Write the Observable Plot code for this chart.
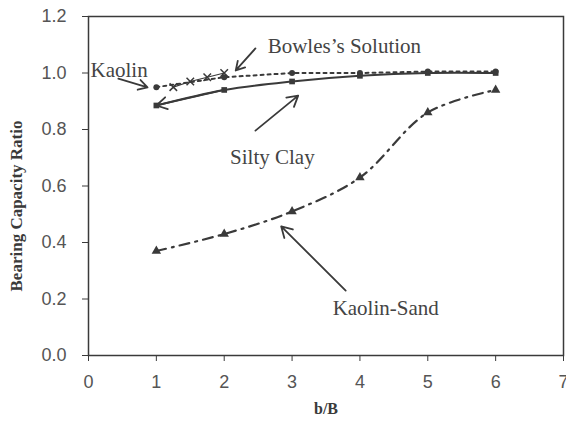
<!DOCTYPE html>
<html>
<head>
<meta charset="utf-8">
<script src="https://cdn.jsdelivr.net/npm/d3@7"></script>
<script src="https://cdn.jsdelivr.net/npm/@observablehq/plot@0.6"></script>
<style>
  html, body { margin: 0; padding: 0; background: #fff; }
  #chart { width: 566px; height: 432px; }
</style>
</head>
<body>
<div id="chart"></div>
<script>
// ---- data ----
const ratios = [1, 2, 3, 4, 5, 6];
const kaolin = [0.95, 0.985, 1.0, 1.0, 1.005, 1.005];
const siltyClay = [0.885, 0.94, 0.97, 0.99, 1.0, 1.0];
const kaolinSand = [0.37, 0.43, 0.51, 0.63, 0.86, 0.94];
const bowlesRatios = [1.25, 1.5, 1.75, 2.0];
const bowles = [0.95, 0.97, 0.985, 1.0];

const xTicks = [0, 1, 2, 3, 4, 5, 6, 7];
const yTicks = [0, 0.2, 0.4, 0.6, 0.8, 1.0, 1.2];

// annotation labels and arrows (data units)
const labelText = ["Kaolin", "Bowles\u2019s Solution", "Silty Clay", "Kaolin-Sand"];
const labelX = [0.03, 2.64, 2.71, 4.38];
const labelY = [1.01, 1.094, 0.70, 0.166];
const labelAnchor = ["start", "start", "middle", "middle"];

const arrowX1 = [0.44, 2.46, 2.46, 3.79, 2.0];
const arrowY1 = [0.98, 1.087, 0.796, 0.23, 0.94];
const arrowX2 = [0.87, 2.17, 3.09, 2.84, 1.0];
const arrowY2 = [0.949, 1.009, 0.92, 0.457, 0.885];

// ---- build tables ----
const tbl = (xa, ya) => xa.map((x, i) => ({x, y: ya[i]}));
const kaolinData = tbl(ratios, kaolin);
const siltyData = tbl(ratios, siltyClay);
const sandData = tbl(ratios, kaolinSand);
const bowlesData = tbl(bowlesRatios, bowles);
const labels = labelText.map((t, i) => ({t, x: labelX[i], y: labelY[i], a: labelAnchor[i]}));
const arrows = arrowX1.map((x1, i) => ({x1, y1: arrowY1[i], x2: arrowX2[i], y2: arrowY2[i]}));

const ink = "#3a3a3a";
const serif = "'Liberation Serif', 'DejaVu Serif', serif";
const sans = "'Liberation Sans', Arial, sans-serif";

const chart = Plot.plot({
  width: 566,
  height: 432,
  marginLeft: 88,
  marginRight: 3,
  marginTop: 16,
  marginBottom: 77,
  style: {background: "#fff", color: ink, fontFamily: sans},
  x: {domain: [0, 7]},
  y: {domain: [0, 1.2]},
  marks: [
    Plot.frame({stroke: ink, strokeWidth: 1.5}),
    Plot.axisX({ticks: xTicks, tickSize: 6, tickPadding: 14, fontSize: 18, fill: "#555",
      stroke: ink, label: null, tickFormat: d => String(d)}),
    Plot.axisY({ticks: yTicks, tickSize: 6, tickPadding: 16, fontSize: 18, fill: "#555",
      stroke: ink, label: null, tickFormat: d3.format(".1f")}),
    Plot.text(["b/B"], {frameAnchor: "bottom", dy: 58, fontSize: 16, fontWeight: "bold",
      fontFamily: serif, fill: ink}),
    Plot.text(["Bearing Capacity Ratio"], {frameAnchor: "middle", textAnchor: "middle",
      dx: -71 - 238, dy: 20, rotate: -90,
      fontSize: 17, fontWeight: "bold", fontFamily: serif, fill: ink}),

    // series
    Plot.line(kaolinData, {x: "x", y: "y", stroke: ink, strokeWidth: 2, strokeDasharray: "3,4"}),
    Plot.line(siltyData, {x: "x", y: "y", stroke: ink, strokeWidth: 2, curve: "catmull-rom"}),
    Plot.line(sandData, {x: "x", y: "y", stroke: ink, strokeWidth: 2.2, strokeDasharray: "10,6,2,6", curve: "catmull-rom"}),
    Plot.line(bowlesData, {x: "x", y: "y", stroke: ink, strokeWidth: 1.2}),

    Plot.dot(kaolinData, {x: "x", y: "y", symbol: "circle", r: 3, fill: ink}),
    Plot.dot(siltyData, {x: "x", y: "y", symbol: "square", r: 3.2, fill: ink}),
    Plot.dot(sandData, {x: "x", y: "y", symbol: "triangle", r: 3.5, fill: ink}),
    Plot.dot(bowlesData, {x: "x", y: "y", symbol: "times", r: 3.5, stroke: ink, strokeWidth: 1.5}),

    // annotations
    Plot.arrow(arrows, {x1: "x1", y1: "y1", x2: "x2", y2: "y2", stroke: ink,
      strokeWidth: 1.8, headLength: 10, bend: false}),
    Plot.text(labels, {x: "x", y: "y", text: "t", textAnchor: "start",
      filter: d => d.a === "start", fontSize: 21, fontFamily: serif, fill: "#444"}),
    Plot.text(labels, {x: "x", y: "y", text: "t", textAnchor: "middle",
      filter: d => d.a === "middle", fontSize: 21, fontFamily: serif, fill: "#444"})
  ]
});
document.getElementById("chart").appendChild(chart);
</script>
</body>
</html>
